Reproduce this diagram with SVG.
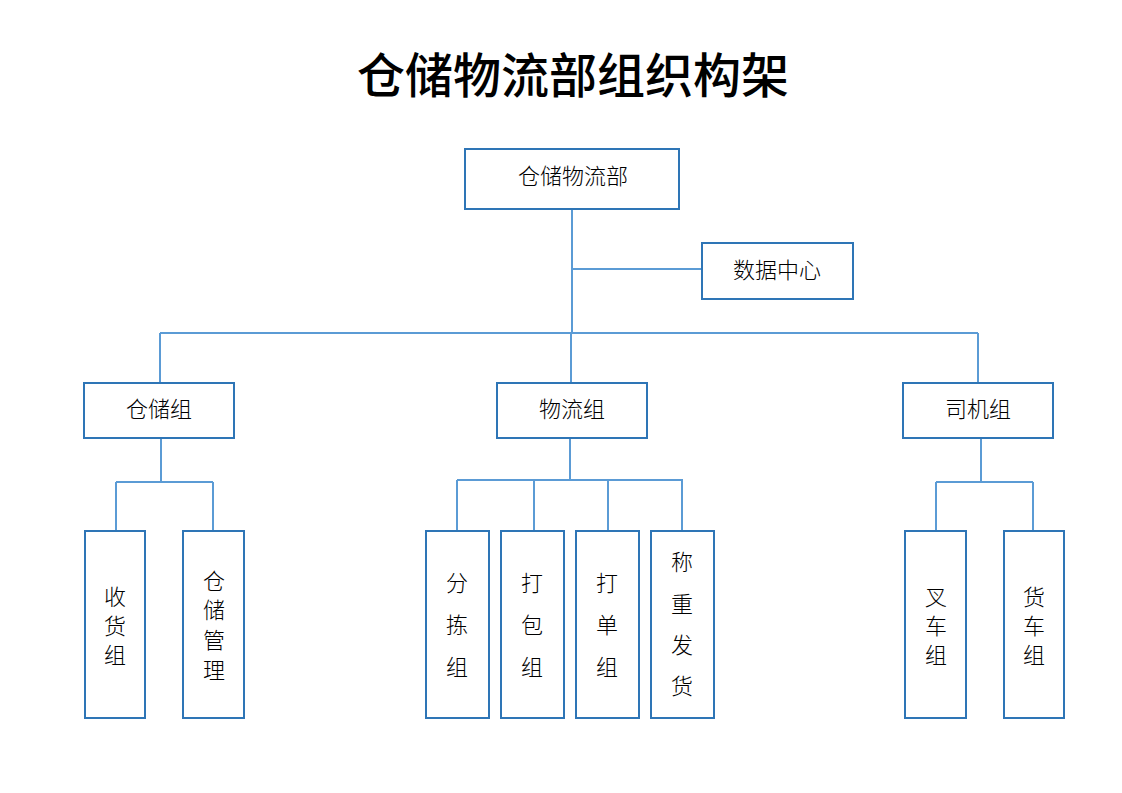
<svg xmlns="http://www.w3.org/2000/svg" width="1122" height="793" viewBox="0 0 1122 793">
<style>
.box{fill:#fff;stroke:#2E75B6;stroke-width:2}
.ln{fill:none;stroke:#5B9BD5;stroke-width:2}
text{font-family:"Noto Sans CJK SC","Noto Sans CJK JP",sans-serif;fill:#000;text-anchor:middle;dominant-baseline:central}
.t{font-size:22px;font-weight:300}
.title{font-size:48px;font-weight:500}
</style>
<rect width="1122" height="793" fill="#fff"/>
<text class="title" x="573" y="72">仓储物流部组织构架</text>
<g id="connectors">
<path class="ln" d="M572 209 V333 M572 269 H702 M160 333 H978 M160 333 V383 M978 333 V383 M571 333 V383"/>
<path class="ln" d="M161 438 V482 M116 482 H213 M116 482 V531 M213 482 V531"/>
<path class="ln" d="M570 438 V480 M457 480 H683 M457 480 V531 M534 480 V531 M608 480 V531 M682 480 V531"/>
<path class="ln" d="M981 438 V482 M936 482 H1033 M936 482 V531 M1033 482 V531"/>
</g>
<g id="n-root"><rect class="box" x="465" y="149" width="214" height="60"/><text class="t" x="573" y="174">仓储物流部</text></g>
<g id="n-data"><rect class="box" x="702" y="243" width="151" height="56"/><text class="t" x="777" y="268">数据中心</text></g>
<g id="n-cc"><rect class="box" x="84" y="383" width="150" height="55"/><text class="t" x="159" y="407">仓储组</text></g>
<g id="n-wl"><rect class="box" x="497" y="383" width="150" height="55"/><text class="t" x="572" y="407">物流组</text></g>
<g id="n-sj"><rect class="box" x="903" y="383" width="150" height="55"/><text class="t" x="978" y="407">司机组</text></g>
<g id="n-sh"><rect class="box" x="85" y="531" width="60" height="187"/><text class="t" x="115" y="595">收</text><text class="t" x="115" y="624">货</text><text class="t" x="115" y="653">组</text></g>
<g id="n-ccgl"><rect class="box" x="183" y="531" width="61" height="187"/><text class="t" x="214" y="579">仓</text><text class="t" x="214" y="608">储</text><text class="t" x="214" y="638">管</text><text class="t" x="214" y="668">理</text></g>
<g id="n-fj"><rect class="box" x="426" y="531" width="63" height="187"/><text class="t" x="457" y="581">分</text><text class="t" x="457" y="623">拣</text><text class="t" x="457" y="665">组</text></g>
<g id="n-db"><rect class="box" x="501" y="531" width="63" height="187"/><text class="t" x="532" y="581">打</text><text class="t" x="532" y="623">包</text><text class="t" x="532" y="665">组</text></g>
<g id="n-dd"><rect class="box" x="576" y="531" width="63" height="187"/><text class="t" x="607" y="581">打</text><text class="t" x="607" y="623">单</text><text class="t" x="607" y="665">组</text></g>
<g id="n-cz"><rect class="box" x="651" y="531" width="63" height="187"/><text class="t" x="682" y="560">称</text><text class="t" x="682" y="602">重</text><text class="t" x="682" y="643">发</text><text class="t" x="682" y="684">货</text></g>
<g id="n-cc2"><rect class="box" x="905" y="531" width="61" height="187"/><text class="t" x="936" y="595">叉</text><text class="t" x="936" y="624">车</text><text class="t" x="936" y="653">组</text></g>
<g id="n-hc"><rect class="box" x="1004" y="531" width="60" height="187"/><text class="t" x="1034" y="595">货</text><text class="t" x="1034" y="624">车</text><text class="t" x="1034" y="653">组</text></g>
</svg>
